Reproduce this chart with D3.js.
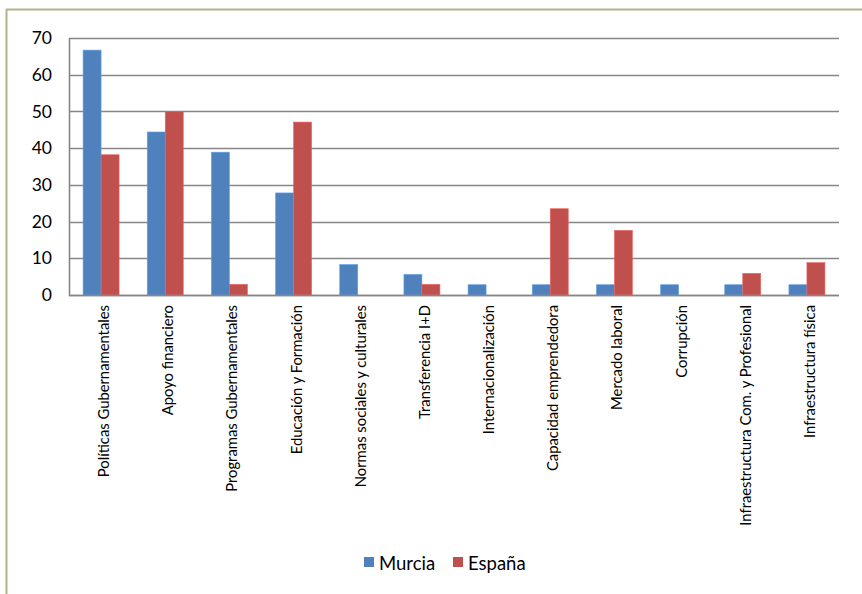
<!DOCTYPE html>
<html><head><meta charset="utf-8">
<script src="https://cdn.jsdelivr.net/npm/d3@7"></script>
<style>html,body{margin:0;padding:0;background:#fff;}svg{display:block;}</style>
</head><body>
<script>
const categories = ["Políticas Gubernamentales","Apoyo financiero","Programas Gubernamentales","Educación y Formación","Normas sociales y culturales","Transferencia I+D","Internacionalización","Capacidad emprendedora","Mercado laboral","Corrupción","Infraestructura Com. y Profesional","Infraestructura física"];
const murcia = [66.7,44.4,38.9,27.8,8.3,5.6,2.8,2.8,2.8,2.8,2.8,2.8];
const espana = [38.2,50.0,2.9,47.1,0,2.9,0,23.5,17.6,0,5.9,8.8];
const seriesNames = ["Murcia","España"];
const colors = ["#4F81BD","#C0504D"];
const yTicks = [0,10,20,30,40,50,60,70];

(function(){
const W=862,H=594;
const svg=d3.select("body").append("svg").attr("width",W).attr("height",H);
const font="Lato, 'Open Sans', sans-serif";

svg.append("line").attr("x1",6).attr("x2",W).attr("y1",9.5).attr("y2",9.5).attr("stroke","#B3B38A").attr("stroke-width",2);
svg.append("line").attr("x1",6.5).attr("x2",6.5).attr("y1",9).attr("y2",H).attr("stroke","#B3B38A").attr("stroke-width",2);

const pL=69,pR=839,pT=38,pB=295;
const x=d3.scaleBand().domain(categories).range([pL,pR]);
const y=d3.scaleLinear().domain([0,70]).range([pB,pT]);
const barW=18;

svg.append("g").selectAll("line").data(yTicks).join("line")
  .attr("x1",pL).attr("x2",pR)
  .attr("y1",d=>Math.round(y(d))+0.5).attr("y2",d=>Math.round(y(d))+0.5)
  .attr("stroke","#868686").attr("stroke-width",1.6);
svg.append("line").attr("x1",pL+0.5).attr("x2",pL+0.5).attr("y1",pT).attr("y2",pB+1)
  .attr("stroke","#868686").attr("stroke-width",1.6);

const yAxis=d3.axisLeft(y).tickValues(yTicks).tickSize(0).tickPadding(17);
const ya=svg.append("g").attr("transform",`translate(${pL},0)`).call(yAxis);
ya.select(".domain").remove();
ya.selectAll("text").attr("font-family",font).attr("font-size",17.5).attr("fill","#000");

const data=[murcia,espana];
data.forEach((vals,si)=>{
  svg.append("g").selectAll("rect").data(vals).join("rect")
    .attr("x",(d,i)=>x(categories[i])+x.bandwidth()/2+(si-1)*barW)
    .attr("width",barW)
    .attr("y",d=>y(d))
    .attr("height",d=>pB-y(d))
    .attr("fill",colors[si])
    .attr("stroke",d=>d>0?d3.color(colors[si]).brighter(0.6):"none")
    .attr("stroke-width",0.6);
});
svg.append("line").attr("x1",pL).attr("x2",pR).attr("y1",pB+0.5).attr("y2",pB+0.5)
  .attr("stroke","#868686").attr("stroke-width",1.6);

svg.append("g").selectAll("text").data(categories).join("text")
  .attr("transform",d=>`translate(${x(d)+x.bandwidth()/2+8},${pB+10}) rotate(-90)`)
  .attr("text-anchor","end")
  .attr("font-family",font).attr("font-size",14.8).attr("fill","#000")
  .text(d=>d);

const lg=svg.append("g");
const legX=[364,453];
seriesNames.forEach((n,i)=>{
  lg.append("rect").attr("x",legX[i]).attr("y",557).attr("width",10).attr("height",10).attr("fill",colors[i]);
  lg.append("text").attr("x",legX[i]+15).attr("y",570).attr("font-family",font).attr("font-size",18.5).attr("fill","#000").text(n);
});
})();
</script>
</body></html>
